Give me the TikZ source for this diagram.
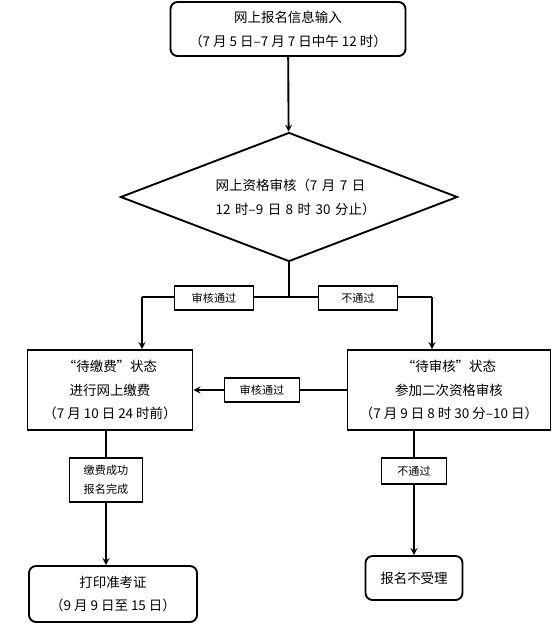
\documentclass[tikz,border=0pt]{standalone}
\usepackage{fontspec}
\newfontfamily\cjk{Noto Sans CJK SC}
\usetikzlibrary{shapes.geometric}

\begin{document}
\begin{tikzpicture}[x=0.03cm, y=-0.03cm, line width=1.6pt, >=stealth,
  every node/.style={font=\cjk\fontsize{11.5}{20.4}\selectfont, align=center},
  roundbox/.style={draw, rounded corners=6pt},
  sqbox/.style={draw},
  tag/.style={draw, fill=white, line width=1pt, font=\cjk\fontsize{9.5}{16}\selectfont}]

  \useasboundingbox (0,0) rectangle (558,636);

  % main steps
  \node[roundbox, minimum width=7.05cm, minimum height=1.62cm] (input) at (288,29)
    {网上报名信息输入\\（7 月 5 日–7 月 7 日中午 12 时）};
  \node[diamond, draw, aspect=2.6, inner sep=0pt, minimum width=10.11cm,
    minimum height=3.87cm, text width=5.3cm, align=left] (check) at (289,197)
    {\hspace*{0.45cm}网上资格审核（7 月 7 日\\\hspace*{0.45cm}12 时–9 日 8 时 30 分止）};
  \node[sqbox, minimum width=4.95cm, minimum height=2.4cm] (pay) at (110,390)
    {“待缴费”状态\\进行网上缴费\\（7 月 10 日 24 时前）};
  \node[sqbox, minimum width=6.09cm, minimum height=2.4cm] (recheck) at (449,390)
    {“待审核”状态\\参加二次资格审核\\（7 月 9 日 8 时 30 分–10 日）};
  \node[roundbox, minimum width=5.04cm, minimum height=1.68cm] (ticket) at (113,594)
    {打印准考证\\（9 月 9 日至 15 日）};
  \node[roundbox, minimum width=2.91cm, minimum height=1.32cm] (reject) at (414,578)
    {报名不受理};

  % branch points
  \coordinate (jn) at (289,297);
  \coordinate (lb) at (142,297);
  \coordinate (rb) at (432,297);

  \draw[->] (input) -- (check);
  \draw (check.south) -- (jn);
  \draw (lb) -- (jn) -- (rb);
  \draw[->] (lb) -- (lb |- pay.north);
  \draw[->] (rb) -- (rb |- recheck.north);

  \node[tag, minimum width=2.37cm, minimum height=0.72cm] (passA) at (214,298) {审核通过};
  \node[tag, minimum width=2.37cm, minimum height=0.72cm] (failA) at (358,298) {不通过};

  \node[tag, minimum width=2.25cm, minimum height=0.72cm] (passB) at (262,390) {审核通过};
  \draw (recheck.west) -- (passB.east);
  \draw[->] (passB.west) -- (pay.east);

  \node[tag, minimum width=2.19cm, minimum height=1.32cm] (paid) at (106,480) {缴费成功\\报名完成};
  \draw (paid |- pay.south) -- (paid.north);
  \draw[->] (paid.south) -- (paid |- ticket.north);

  \node[tag, minimum width=1.95cm, minimum height=0.78cm] (failB) at (414,471) {不通过};
  \draw (failB |- recheck.south) -- (failB.north);
  \draw[->] (failB.south) -- (reject.north);

\end{tikzpicture}
\end{document}
